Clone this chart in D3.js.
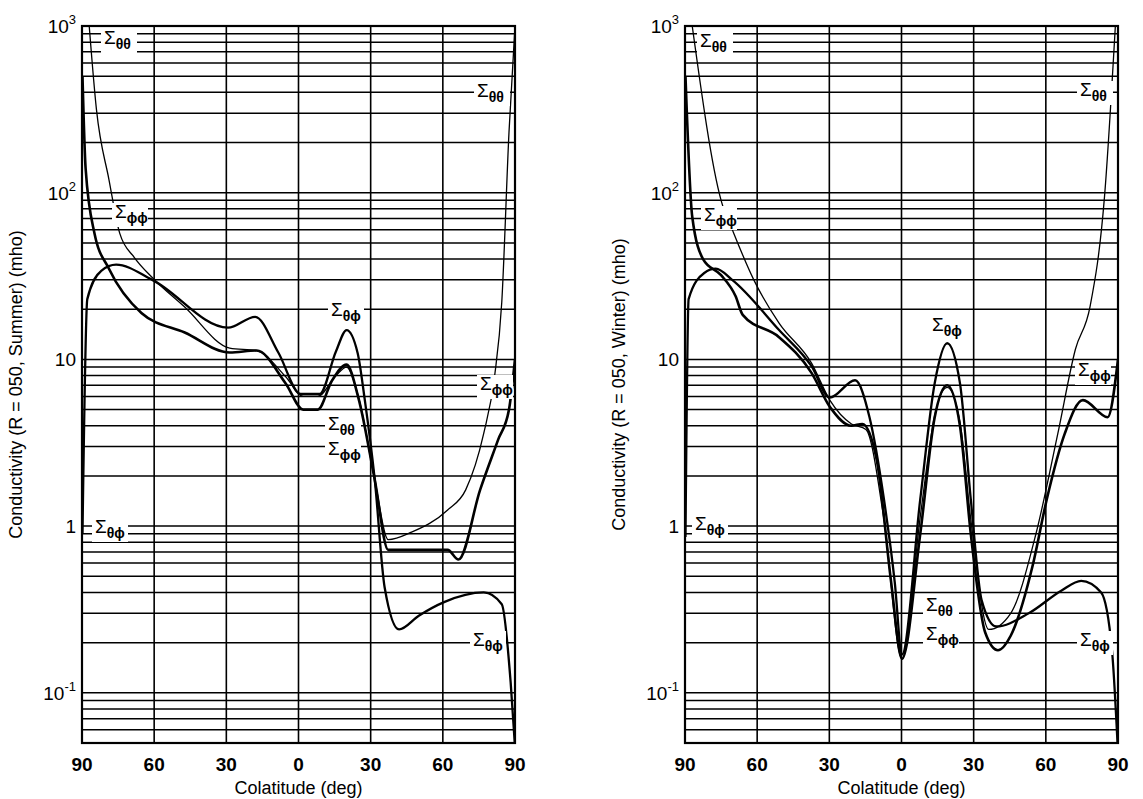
<!DOCTYPE html>
<html><head><meta charset="utf-8">
<script src="https://cdn.jsdelivr.net/npm/d3@7"></script>
<style>body{margin:0;background:#fff}text{font-family:"Liberation Sans",Arial,sans-serif;fill:#000}</style>
</head><body><svg id="c" width="1143" height="799"></svg>
<script>
// x: signed colatitude (-90 = left 90, 0 = middle, +90 = right 90)
const xTicks = [-90,-60,-30,0,30,60,90];
const xTickLabels = ["90","60","30","0","30","60","90"];
const yTicks = [1000,100,10,1,0.1];
const yTickLabels = [["10","3"],["10","2"],["10",""],["1",""],["10","-1"]];

const summerThetaTheta = [[-87,1000],[-84,316],[-78.8,120],[-74.3,57],[-68.3,41],[-60.8,31],[-47.3,20.6],[-28.6,11.7],[-17.4,11.3],[-5.4,7.9],[2,6.0],[8,6.0],[15.6,8],[20,9],[25,5.9],[31.7,1.9],[37.3,0.83],[47,0.92],[62,1.25],[69.5,1.65],[77,3.6],[81.5,7.9],[84.5,22],[87.5,230],[90,1000]];
const summerPhiPhi = [[-89.8,500],[-88.5,140],[-84.8,57],[-78.8,35],[-65.3,19],[-47.3,14.5],[-28.6,11],[-17.4,11.3],[-5.4,7.2],[2,5.0],[8,5.0],[14,7.5],[20,9.3],[25,5.8],[31.7,1.9],[37.3,0.72],[50,0.72],[62,0.72],[66.5,0.63],[75.5,1.65],[83,3.3],[87.5,5],[90,10]];
const summerThetaPhi = [[-89.8,0.9],[-87.8,23],[-82,34],[-75.8,37],[-60.8,30],[-29.3,15.5],[-18,18],[-8.4,11],[0.9,6.2],[8.8,6.2],[15.6,11.2],[20,15],[24.6,10.9],[27.5,5.8],[31.7,1.9],[35.8,0.43],[41.8,0.24],[50,0.29],[60.5,0.35],[77,0.40],[84.5,0.34],[88.2,0.115],[89.9,0.05]];

const winterThetaTheta = [[-87,1000],[-75,90],[-69.7,57],[-61.4,30],[-50.9,16.5],[-37.4,9.5],[-29.8,5.7],[-20.8,4.1],[-14.8,3.8],[-7.3,1.1],[0.2,0.16],[8,1.2],[13.8,4.6],[19,6.8],[24.3,4.2],[28.8,1.1],[36.3,0.24],[45.4,0.30],[55.9,0.9],[65,3.6],[72.3,11.5],[78.4,20.8],[84.4,95],[88.9,1000]];
const winterPhiPhi = [[-89.8,500],[-87,72],[-82.5,40],[-75,32],[-69,24],[-66,18.5],[-50.9,13.6],[-37.4,8.3],[-29.8,5.2],[-20.8,4.0],[-16.3,4.1],[-10.3,2.5],[-4.3,0.46],[0.2,0.16],[7.8,0.9],[13.8,4.5],[19,7.0],[24.3,4.0],[28.8,0.9],[34.8,0.23],[40.1,0.18],[45.4,0.22],[54.4,0.57],[60.4,1.45],[67.9,3.6],[75.4,5.7],[85.7,4.5],[90,10]];
const winterThetaPhi = [[-89.8,0.86],[-88.5,23],[-82,33],[-77.2,35],[-70.4,30],[-50.9,15],[-37.4,9.1],[-29.8,5.9],[-19.3,7.5],[-13.3,4.5],[-7.3,1.45],[-2.8,0.46],[0.2,0.17],[7.8,1.45],[13.8,7.2],[19,12.5],[24.3,7.2],[28.8,1.45],[33.3,0.36],[39.4,0.25],[52.9,0.30],[66.4,0.41],[74.7,0.47],[83,0.40],[87.5,0.18],[89.8,0.05]];

const panels = [
 {x0:82,x1:515,title:"Conductivity (R = 050, Summer) (mho)",series:[[summerThetaTheta,1.3],[summerPhiPhi,2.6],[summerThetaPhi,2.3]],
  labels:[["θθ",104,44],["ϕϕ",115,218],["θϕ",331,316],["θθ",477,97],["ϕϕ",480,390],["θθ",328,430],["ϕϕ",328,455],["θϕ",95,533],["θϕ",473,646]]},
 {x0:685,x1:1118,title:"Conductivity (R = 050, Winter) (mho)",series:[[winterThetaTheta,1.3],[winterPhiPhi,2.6],[winterThetaPhi,2.3]],
  labels:[["θθ",700,47],["ϕϕ",704,221],["θϕ",932,331],["θθ",1080,96],["ϕϕ",1078,376],["θϕ",695,530],["θθ",926,611],["ϕϕ",926,640],["θϕ",1080,646]]}
];
const yTop=26,yBot=743;
const svg=d3.select("#c");
const y=d3.scaleLog().domain([0.05,1000]).range([yBot,yTop]).clamp(true);
const minor=[];
for(let e=-2;e<3;e++)for(let m=1;m<10;m++){const v=m*Math.pow(10,e);if(v>0.05&&v<1000)minor.push(v);}

panels.forEach((p,i)=>{
  const x=d3.scaleLinear().domain([-90,90]).range([p.x0,p.x1]);
  const g=svg.append("g");
  g.append("clipPath").attr("id","cl"+i).append("rect").attr("x",p.x0).attr("y",yTop).attr("width",p.x1-p.x0).attr("height",yBot-yTop);
  g.selectAll(".h").data(minor).enter().append("line").attr("x1",p.x0).attr("x2",p.x1).attr("y1",d=>y(d)).attr("y2",d=>y(d)).attr("stroke","#000").attr("stroke-width",1.5);
  g.selectAll(".v").data(xTicks).enter().append("line").attr("x1",d=>x(d)).attr("x2",d=>x(d)).attr("y1",yTop).attr("y2",yBot).attr("stroke","#000").attr("stroke-width",1.6);
  g.append("rect").attr("x",p.x0).attr("y",yTop).attr("width",p.x1-p.x0).attr("height",yBot-yTop).attr("fill","none").attr("stroke","#000").attr("stroke-width",2.2);
  const line=d3.line().x(d=>x(d[0])).y(d=>y(d[1])).curve(d3.curveMonotoneX);
  const cg=g.append("g").attr("clip-path","url(#cl"+i+")");
  p.series.forEach(([s,w])=>cg.append("path").attr("d",line(s)).attr("fill","none").attr("stroke","#000").attr("stroke-width",w).attr("stroke-linejoin","round"));
  p.labels.forEach(([sub,lx,ly])=>{
    g.append("rect").attr("x",lx-3).attr("y",ly-15).attr("width",36).attr("height",24).attr("fill","#fff");
    const t=g.append("text").attr("x",lx).attr("y",ly).attr("font-size",19);
    t.append("tspan").text("Σ");
    t.append("tspan").attr("dy",5).attr("font-size",14).attr("font-weight","bold").text(sub);
  });
  yTicks.forEach((v,k)=>{
    const [b,sup]=yTickLabels[k];
    const t=g.append("text").attr("x",p.x0-6).attr("y",y(v)+7).attr("text-anchor","end").attr("font-size",19);
    t.append("tspan").text(b);
    if(sup) t.append("tspan").attr("dy",-9).attr("font-size",13).text(sup);
  });
  xTicks.forEach((v,k)=>g.append("text").attr("x",x(v)).attr("y",771).attr("text-anchor","middle").attr("font-size",19).attr("font-weight","bold").text(xTickLabels[k]));
  g.append("text").attr("x",(p.x0+p.x1)/2).attr("y",794).attr("text-anchor","middle").attr("font-size",18).text("Colatitude (deg)");
  g.append("text").attr("transform",`translate(${p.x0-60},${(yTop+yBot)/2}) rotate(-90)`).attr("text-anchor","middle").attr("font-size",18).text(p.title);
});
</script></body></html>
